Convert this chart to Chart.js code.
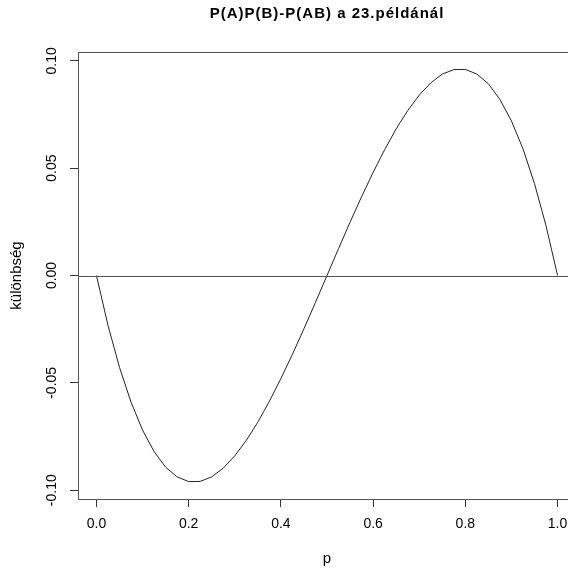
<!DOCTYPE html>
<html>
<head>
<meta charset="utf-8">
<script src="https://cdn.jsdelivr.net/npm/chart.js@4/dist/chart.umd.min.js"></script>
<style>
  body { margin:0; background:#fff; }
  #wrap { width:568px; height:569px; overflow:hidden; }
</style>
</head>
<body>
<div id="wrap"><canvas id="myChart" width="600" height="569"></canvas></div>
<script>
var titleText = 'P(A)P(B)-P(AB) a 23.példánál'
var xTitle = 'p'
var yTitle = 'különbség'

// p values and the difference
var p = [0, 0.025, 0.05, 0.075, 0.1, 0.125, 0.15, 0.175, 0.2, 0.225, 0.25,
         0.275, 0.3, 0.325, 0.35, 0.375, 0.4, 0.425, 0.45, 0.475, 0.5,
         0.525, 0.55, 0.575, 0.6, 0.625, 0.65, 0.675, 0.7, 0.725, 0.75,
         0.775, 0.8, 0.825, 0.85, 0.875, 0.9, 0.925, 0.95, 0.975, 1]
var diff = [0, -0.0232, -0.0428, -0.0590, -0.0720, -0.0820, -0.0893, -0.0938, -0.0960, -0.0959, -0.0938,
            -0.0897, -0.0840, -0.0768, -0.0683, -0.0586, -0.0480, -0.0367, -0.0248, -0.0125, 0,
            0.0125, 0.0248, 0.0367, 0.0480, 0.0586, 0.0683, 0.0768, 0.0840, 0.0897, 0.0938,
            0.0959, 0.0960, 0.0938, 0.0893, 0.0820, 0.0720, 0.0590, 0.0428, 0.0232, 0]

var xTicks = [0, 0.2, 0.4, 0.6, 0.8, 1.0]
var yTicks = [-0.10, -0.05, 0.00, 0.05, 0.10]

var font = 'Arial, "Liberation Sans", sans-serif'

var pts = p.map(function(v, i){ return {x:v, y:diff[i]} })

// frame, zero line, title and the rotated y labels
var extras = {
    id:'extras',
    afterDraw: function(chart){
        var c = chart.ctx, a = chart.chartArea
        var ys = chart.scales.y
        c.save()
        c.strokeStyle = '#555'
        c.lineWidth = 1
        c.strokeRect(Math.round(a.left)+0.5, Math.round(a.top)+0.5, a.right-a.left, a.bottom-a.top)
        var y0 = Math.round(ys.getPixelForValue(0))+0.5
        c.beginPath()
        c.moveTo(a.left, y0)
        c.lineTo(a.right, y0)
        c.stroke()

        c.fillStyle = '#000'
        c.font = 'bold 15px ' + font
        c.letterSpacing = '1px'
        c.textAlign = 'center'
        c.textBaseline = 'middle'
        c.fillText(titleText, (a.left+a.right)/2, 14)

        c.letterSpacing = '0px'
        c.font = '14px ' + font
        yTicks.forEach(function(v){
            c.save()
            c.translate(52, ys.getPixelForValue(v))
            c.rotate(-Math.PI/2)
            c.fillText(v.toFixed(2), 0, 0)
            c.restore()
        })
        c.restore()
    }
}

var ctx = document.getElementById('myChart').getContext('2d')
var Chart1 = new Chart(ctx, {
    type:'line',
    plugins:[extras],
    data:{
        datasets:[{
            data:pts,
            borderColor:'#222',
            borderWidth:1,
            pointRadius:0,
            tension:0,
            fill:false
        }]
    },
    options:{
        responsive:false,
        animation:false,
        layout:{ padding:{ top:52, right:24, left:0, bottom:0 } },
        plugins:{
            legend:{ display:false },
            tooltip:{ enabled:false }
        },
        scales:{
            x:{
                type:'linear',
                min:-0.04,
                max:1.04,
                afterBuildTicks:function(s){ s.ticks = xTicks.map(function(v){ return {value:v} }) },
                afterFit:function(s){ s.height = 70 },
                grid:{ drawOnChartArea:false, drawTicks:true, tickLength:8, color:'#333' },
                border:{ display:true, color:'#555', width:1 },
                ticks:{
                    color:'#000',
                    font:{ family:font, size:14 },
                    padding:9,
                    maxRotation:0,
                    callback:function(v){ return v.toFixed(1) }
                },
                title:{
                    display:true, text:xTitle, color:'#000',
                    font:{ family:font, size:15 },
                    padding:{ top:0, bottom:1 }
                }
            },
            y:{
                type:'linear',
                min:-0.1041,
                max:0.1041,
                afterBuildTicks:function(s){ s.ticks = yTicks.map(function(v){ return {value:v} }) },
                afterFit:function(s){ s.width = 78 },
                grid:{ drawOnChartArea:false, drawTicks:true, tickLength:8, color:'#333' },
                border:{ display:true, color:'#555', width:1 },
                ticks:{ display:false },
                title:{
                    display:true, text:yTitle, color:'#000',
                    font:{ family:font, size:15 },
                    padding:{ top:8, bottom:0 }
                }
            }
        }
    }
})
</script>
</body>
</html>
